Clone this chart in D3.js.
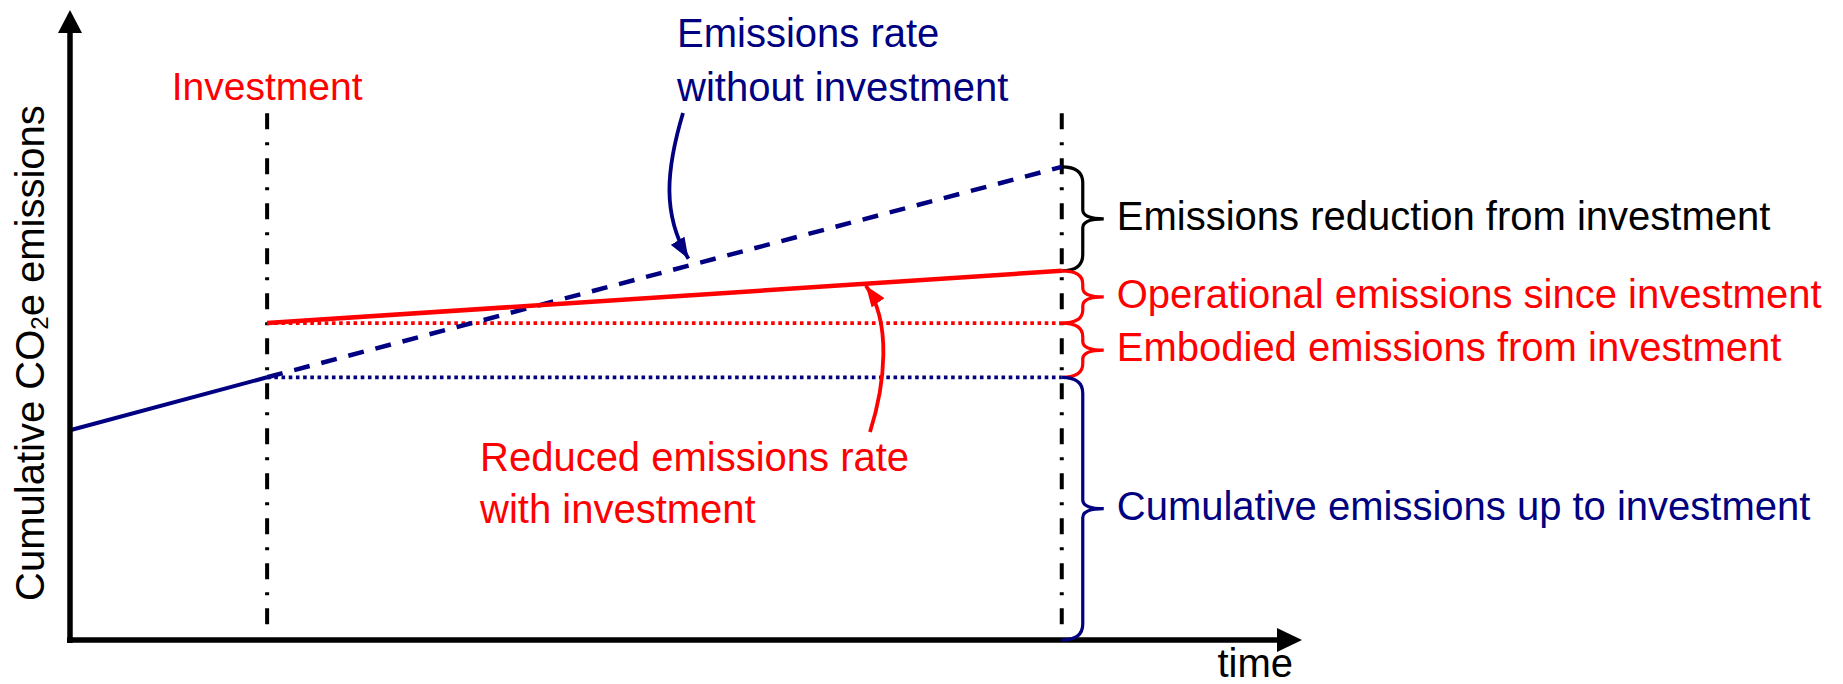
<!DOCTYPE html>
<html>
<head>
<meta charset="utf-8">
<script src="https://cdn.jsdelivr.net/npm/d3@7"></script>
<style>
    html, body { margin: 0; padding: 0; background: #fff; }
    svg { display: block; font-family: "Liberation Sans", Arial, sans-serif; }
</style>
</head>
<body>
<svg id="chart" width="1843" height="684"></svg>
<script>
// Cumulative emissions schematic
const NAVY = "#000080";
const RED = "#ff0000";

// start, investment, horizon (time axis runs 0..100)
const timeMarks = [0, 16, 80.5];
// cumulative emissions without the investment
const emissionsNoInvest = [33.3, 41.7, 75.1];
// cumulative emissions with the investment (investment -> horizon)
const emissionsWithInvest = [50.3, 58.6];
// brace boundaries at the horizon, top to bottom
const braceLevels = [75.1, 58.6, 50.3, 41.7, 0];
const braceLabels = [
    "Emissions reduction from investment",
    "Operational emissions since investment",
    "Embodied emissions from investment",
    "Cumulative emissions up to investment"
];
const braceColors = ["#000", RED, RED, NAVY];

const svg = d3.select("#chart");
const x = d3.scaleLinear().domain([0, 100]).range([70, 1302]);
const y = d3.scaleLinear().domain([0, 100]).range([640, 10]);

const defs = svg.append("defs");
function marker(id, color) {
    defs.append("marker")
        .attr("id", id)
        .attr("viewBox", "-21 -8 21 16")
        .attr("markerUnits", "userSpaceOnUse")
        .attr("markerWidth", 21)
        .attr("markerHeight", 16)
        .attr("refX", 0)
        .attr("refY", 0)
        .attr("orient", "auto")
        .append("path")
        .attr("d", "M0,0L-21,-8L-21,8Z")
        .attr("fill", color);
}
marker("arrow-navy", NAVY);
marker("arrow-red", RED);

const line = d3.line().x(d => x(d[0])).y(d => y(d[1]));

// vertical dash-dot markers at investment and horizon
const vTop = 83.6;
svg.selectAll(".vline")
    .data([[timeMarks[1], 1.6], [timeMarks[2], 0.5]])
    .join("line")
    .attr("class", "vline")
    .attr("x1", d => x(d[0])).attr("x2", d => x(d[0]))
    .attr("y1", y(vTop)).attr("y2", d => y(d[1]))
    .attr("stroke", "#000")
    .attr("stroke-width", 4)
    .attr("stroke-dasharray", "16,13,3,13");

// dotted levels from investment to horizon
svg.append("path")
    .attr("d", line([[timeMarks[1], emissionsNoInvest[1]], [timeMarks[2], emissionsNoInvest[1]]]))
    .attr("stroke", NAVY).attr("stroke-width", 3.8).attr("fill", "none")
    .attr("stroke-dasharray", "3.6,3.6");
svg.append("path")
    .attr("d", line([[timeMarks[1], emissionsWithInvest[0]], [timeMarks[2], emissionsWithInvest[0]]]))
    .attr("stroke", RED).attr("stroke-width", 3.8).attr("fill", "none")
    .attr("stroke-dasharray", "3.6,3.6");

// emissions path before investment (solid) and without investment (dashed)
svg.append("path")
    .attr("d", line([[timeMarks[0], emissionsNoInvest[0]], [timeMarks[1], emissionsNoInvest[1]]]))
    .attr("stroke", NAVY).attr("stroke-width", 4).attr("fill", "none");
svg.append("path")
    .attr("d", line([[timeMarks[1], emissionsNoInvest[1]], [timeMarks[2], emissionsNoInvest[2]]]))
    .attr("stroke", NAVY).attr("stroke-width", 4.5).attr("fill", "none")
    .attr("stroke-dasharray", "16,12");

// reduced emissions path with investment
svg.append("path")
    .attr("d", line([[timeMarks[1], emissionsWithInvest[0]], [timeMarks[2], emissionsWithInvest[1]]]))
    .attr("stroke", RED).attr("stroke-width", 4.5).attr("fill", "none");

// axes with arrowheads
svg.append("line")
    .attr("x1", x(0)).attr("x2", x(0)).attr("y1", y(0) + 3).attr("y2", y(100) + 20)
    .attr("stroke", "#000").attr("stroke-width", 5.5);
svg.append("line")
    .attr("x1", x(0) - 3).attr("x2", x(100) - 20).attr("y1", y(0)).attr("y2", y(0))
    .attr("stroke", "#000").attr("stroke-width", 5.5);
svg.append("path")
    .attr("d", `M${x(0)},${y(100)}L${x(0) - 12},${y(100) + 23}L${x(0) + 12},${y(100) + 23}Z`)
    .attr("fill", "#000");
svg.append("path")
    .attr("d", `M${x(100)},${y(0)}L${x(100) - 25},${y(0) - 12}L${x(100) - 25},${y(0) + 12}Z`)
    .attr("fill", "#000");

// braces at the horizon
const bx = x(timeMarks[2]);
function bracePath(y0, y1) {
    const xv = bx + 21, xt = bx + 42, ym = (y0 + y1) / 2;
    const r1 = Math.min(16, (y1 - y0) / 4), r2 = Math.min(9, (y1 - y0) / 5);
    return `M${bx},${y0}Q${xv},${y0} ${xv},${y0 + r1}L${xv},${ym - r2}` +
        `Q${xv},${ym} ${xt},${ym}Q${xv},${ym} ${xv},${ym + r2}` +
        `L${xv},${y1 - r1}Q${xv},${y1} ${bx},${y1}`;
}
braceLabels.forEach((label, i) => {
    const y0 = y(braceLevels[i]), y1 = y(braceLevels[i + 1]);
    svg.append("path")
        .attr("d", bracePath(y0, y1))
        .attr("fill", "none")
        .attr("stroke", braceColors[i])
        .attr("stroke-width", 3.2);
    svg.append("text")
        .attr("x", bx + 55)
        .attr("y", (y0 + y1) / 2 + 11)
        .attr("font-size", 40)
        .attr("fill", braceColors[i])
        .text(label);
});

// labels
svg.append("text")
    .attr("x", x(timeMarks[1])).attr("y", 100)
    .attr("text-anchor", "middle")
    .attr("font-size", 39).attr("fill", RED)
    .text("Investment");

svg.append("text")
    .attr("x", 1293).attr("y", 677)
    .attr("text-anchor", "end")
    .attr("font-size", 40).attr("fill", "#000")
    .text("time");

const ylab = svg.append("text")
    .attr("transform", "translate(44,353) rotate(-90)")
    .attr("text-anchor", "middle")
    .attr("font-size", 40).attr("fill", "#000");
ylab.append("tspan").text("Cumulative CO");
ylab.append("tspan").attr("font-size", 24).attr("dy", 4).text("2");
ylab.append("tspan").attr("dy", -4).text("e emissions");

const noInvestLabel = svg.append("text").attr("font-size", 40).attr("fill", NAVY);
noInvestLabel.append("tspan").attr("x", 677).attr("y", 47).text("Emissions rate");
noInvestLabel.append("tspan").attr("x", 677).attr("y", 101).text("without investment");

const withInvestLabel = svg.append("text").attr("font-size", 40).attr("fill", RED);
withInvestLabel.append("tspan").attr("x", 480).attr("y", 471).text("Reduced emissions rate");
withInvestLabel.append("tspan").attr("x", 480).attr("y", 523).text("with investment");

// curved pointers onto the two rate lines
function onLine(t, vals, t0, t1) {
    return y(vals[0] + (vals[1] - vals[0]) * (t - t0) / (t1 - t0));
}
const tBlue = 50.2, tRed = 64.6;
const blueEnd = [x(tBlue), onLine(tBlue, emissionsNoInvest.slice(1), timeMarks[1], timeMarks[2]) - 7];
svg.append("path")
    .attr("d", `M683,113C666,170 662,215 ${blueEnd[0]},${blueEnd[1]}`)
    .attr("fill", "none").attr("stroke", NAVY).attr("stroke-width", 3.8)
    .attr("marker-end", "url(#arrow-navy)");

const redEnd = [x(tRed), onLine(tRed, emissionsWithInvest, timeMarks[1], timeMarks[2]) + 2];
svg.append("path")
    .attr("d", `M870,432C885,385 892,322 ${redEnd[0]},${redEnd[1]}`)
    .attr("fill", "none").attr("stroke", RED).attr("stroke-width", 3.8)
    .attr("marker-end", "url(#arrow-red)");
</script>
</body>
</html>
